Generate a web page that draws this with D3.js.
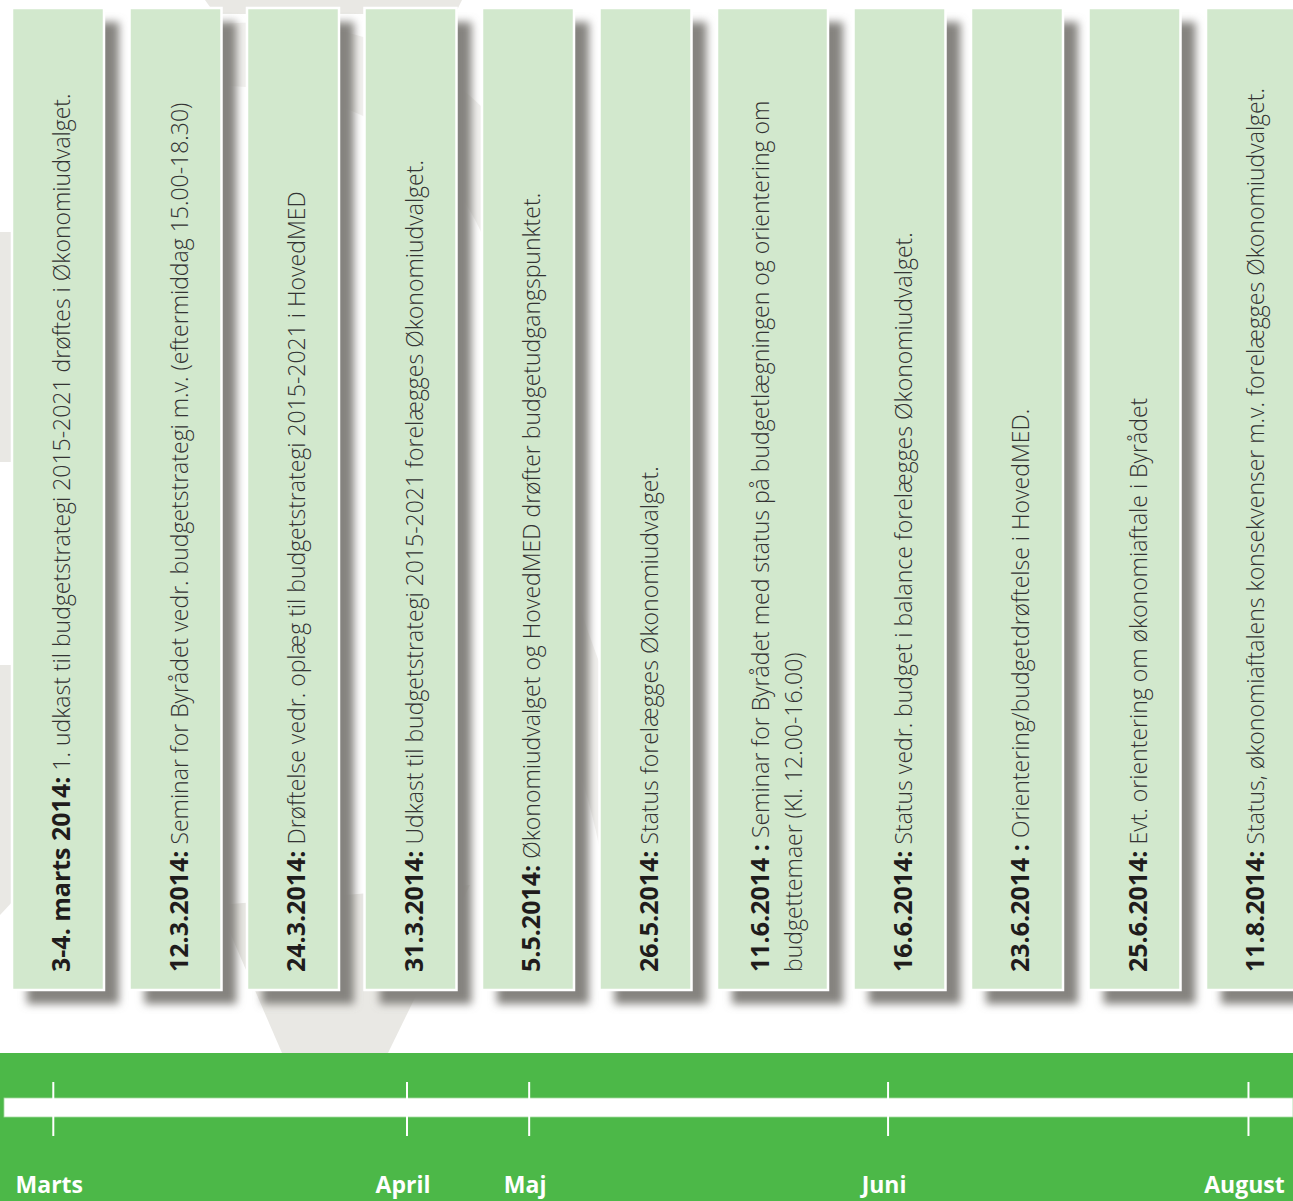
<!DOCTYPE html>
<html>
<head>
<meta charset="utf-8">
<script src="https://cdn.jsdelivr.net/npm/d3@7"></script>
<style>
  html, body { margin: 0; padding: 0; background: #fff; }
  svg { display: block; }
</style>
</head>
<body>
<div id="board"></div>
<script>
// budget calendar 2014, one card per meeting
var dates = ["3-4. marts 2014:", "12.3.2014:", "24.3.2014:", "31.3.2014:", "5.5.2014:",
             "26.5.2014:", "11.6.2014 :", "16.6.2014:", "23.6.2014 :", "25.6.2014:", "11.8.2014:"]
  , notes = [
      [" 1. udkast til budgetstrategi 2015-2021  drøftes i Økonomiudvalget."],
      [" Seminar for Byrådet vedr. budgetstrategi m.v. (eftermiddag 15.00-18.30)"],
      [" Drøftelse vedr. oplæg til budgetstrategi 2015-2021 i HovedMED"],
      [" Udkast til budgetstrategi 2015-2021  forelægges Økonomiudvalget."],
      [" Økonomiudvalget og HovedMED drøfter budgetudgangspunktet."],
      [" Status forelægges Økonomiudvalget."],
      [" Seminar for Byrådet med status på budgetlægningen og orientering om", "budgettemaer (Kl. 12.00-16.00)"],
      [" Status vedr. budget i balance forelægges Økonomiudvalget."],
      [" Orientering/budgetdrøftelse i HovedMED."],
      [" Evt. orientering om økonomiaftale i Byrådet"],
      [" Status, økonomiaftalens konsekvenser m.v. forelægges Økonomiudvalget."]
    ]
  , months = ["Marts", "April", "Maj", "Juni", "August"]
  // where each month tick sits, measured in card positions (0 = first card)
  , monthAnchors = [-0.04, 2.97, 4.01, 6.91, 9.97]
  ;

var W = 1293
  , H = 1201
  , cardTop = 8
  , cardBottom = 990
  , cardW = 92
  , lineStep = 33
  , gap = 25.5
  , bandTop = 1053
  , lineY = 1098
  , svg = d3.select("#board").append("svg").attr("width", W).attr("height", H)
  , defs = svg.append("defs")
  ;

var shadow = defs.append("filter").attr("id", "soft")
  .attr("x", "-30%").attr("y", "-5%").attr("width", "160%").attr("height", "110%");
shadow.append("feGaussianBlur").attr("stdDeviation", 4.5);

// card layout: wider card when the note runs over two lines
var cards = dates.map(function (d, i) {
  return { date: d, lines: notes[i], w: cardW + (notes[i].length - 1) * 19 };
});
var left = 12;
cards.forEach(function (c) {
  c.x = left;
  left += c.w + gap;
});

var pos = d3.scaleLinear()
  .domain(cards.map(function (d, i) { return i; }))
  .range(cards.map(function (c) { return c.x + c.w / 2; }));

// faint logo shapes in the background
var bg = svg.append("g").attr("fill", "#e9e8e4");
bg.append("path").attr("d", "M205,0 L462,0 L455,14 L215,14 Z");
bg.append("path").attr("d", "M218,905 L470,885 L388,1053 L282,1053 Z");
bg.append("path").attr("d", "M0,232 L14,232 L14,462 L0,462 Z");
bg.append("path").attr("d", "M0,665 L14,665 L14,900 L0,915 Z");
bg.append("path")
  .attr("d", "M140,40 C420,-40 620,160 560,420 C520,600 700,760 640,980 L600,980 C640,780 470,620 500,420 C540,190 380,60 150,90 Z")
  .attr("opacity", 0.6);

var group = svg.selectAll("g.card").data(cards).enter().append("g").attr("class", "card");

group.append("rect")
  .attr("x", function (d) { return d.x + 15; })
  .attr("y", cardTop + 14)
  .attr("width", function (d) { return d.w; })
  .attr("height", cardBottom - cardTop)
  .attr("fill", "#85837f")
  .attr("filter", "url(#soft)");

group.append("rect")
  .attr("x", function (d) { return d.x; })
  .attr("y", cardTop)
  .attr("width", function (d) { return d.w; })
  .attr("height", cardBottom - cardTop)
  .attr("fill", "#d2e8cd")
  .attr("stroke", "#fff")
  .attr("stroke-width", 2.5);

var label = group.append("text")
  .attr("transform", function (d) {
    return "translate(" + (d.x + 58 - 6 * (d.lines.length - 1)) + "," + 972 + ") rotate(-90)";
  })
  .attr("font-family", "'Open Sans', 'Noto Sans', sans-serif")
  .attr("font-size", 23)
  .attr("fill", "#333");

label.each(function (d) {
  var t = d3.select(this);
  t.append("tspan").attr("font-weight", 700).attr("font-size", 25).attr("fill", "#1f1c1c").text(d.date);
  d.lines.forEach(function (line, k) {
    var s = t.append("tspan").attr("font-weight", 300).text(line);
    if (k > 0) s.attr("x", 0).attr("dy", lineStep);
  });
});

// timeline band
svg.append("rect")
  .attr("x", 0).attr("y", bandTop)
  .attr("width", W).attr("height", H - bandTop)
  .attr("fill", "#4cb848");

svg.append("rect")
  .attr("x", 4).attr("y", lineY)
  .attr("width", W - 4).attr("height", 19)
  .attr("fill", "#fff")
  .attr("stroke", "#a6dba0").attr("stroke-width", 0.8);

svg.selectAll("line.tick").data(monthAnchors).enter().append("line")
  .attr("class", "tick")
  .attr("x1", function (d) { return pos(d); })
  .attr("x2", function (d) { return pos(d); })
  .attr("y1", 1082).attr("y2", 1136)
  .attr("stroke", "#fff").attr("stroke-width", 2);

svg.selectAll("text.month").data(months).enter().append("text")
  .attr("class", "month")
  .attr("x", function (d, i) { return pos(monthAnchors[i]) - 4; })
  .attr("y", 1193)
  .attr("text-anchor", "middle")
  .attr("font-family", "'Open Sans', 'Noto Sans', sans-serif")
  .attr("font-weight", 700)
  .attr("font-size", 23)
  .attr("fill", "#fff")
  .text(function (d) { return d; })
  .each(function () {
    // keep the end labels inside the page
    var b = this.getBBox();
    if (b.x < 10) d3.select(this).attr("x", +d3.select(this).attr("x") + (10 - b.x));
    if (b.x + b.width > W - 3) d3.select(this).attr("x", +d3.select(this).attr("x") - (b.x + b.width - W + 3));
  });
</script>
</body>
</html>
